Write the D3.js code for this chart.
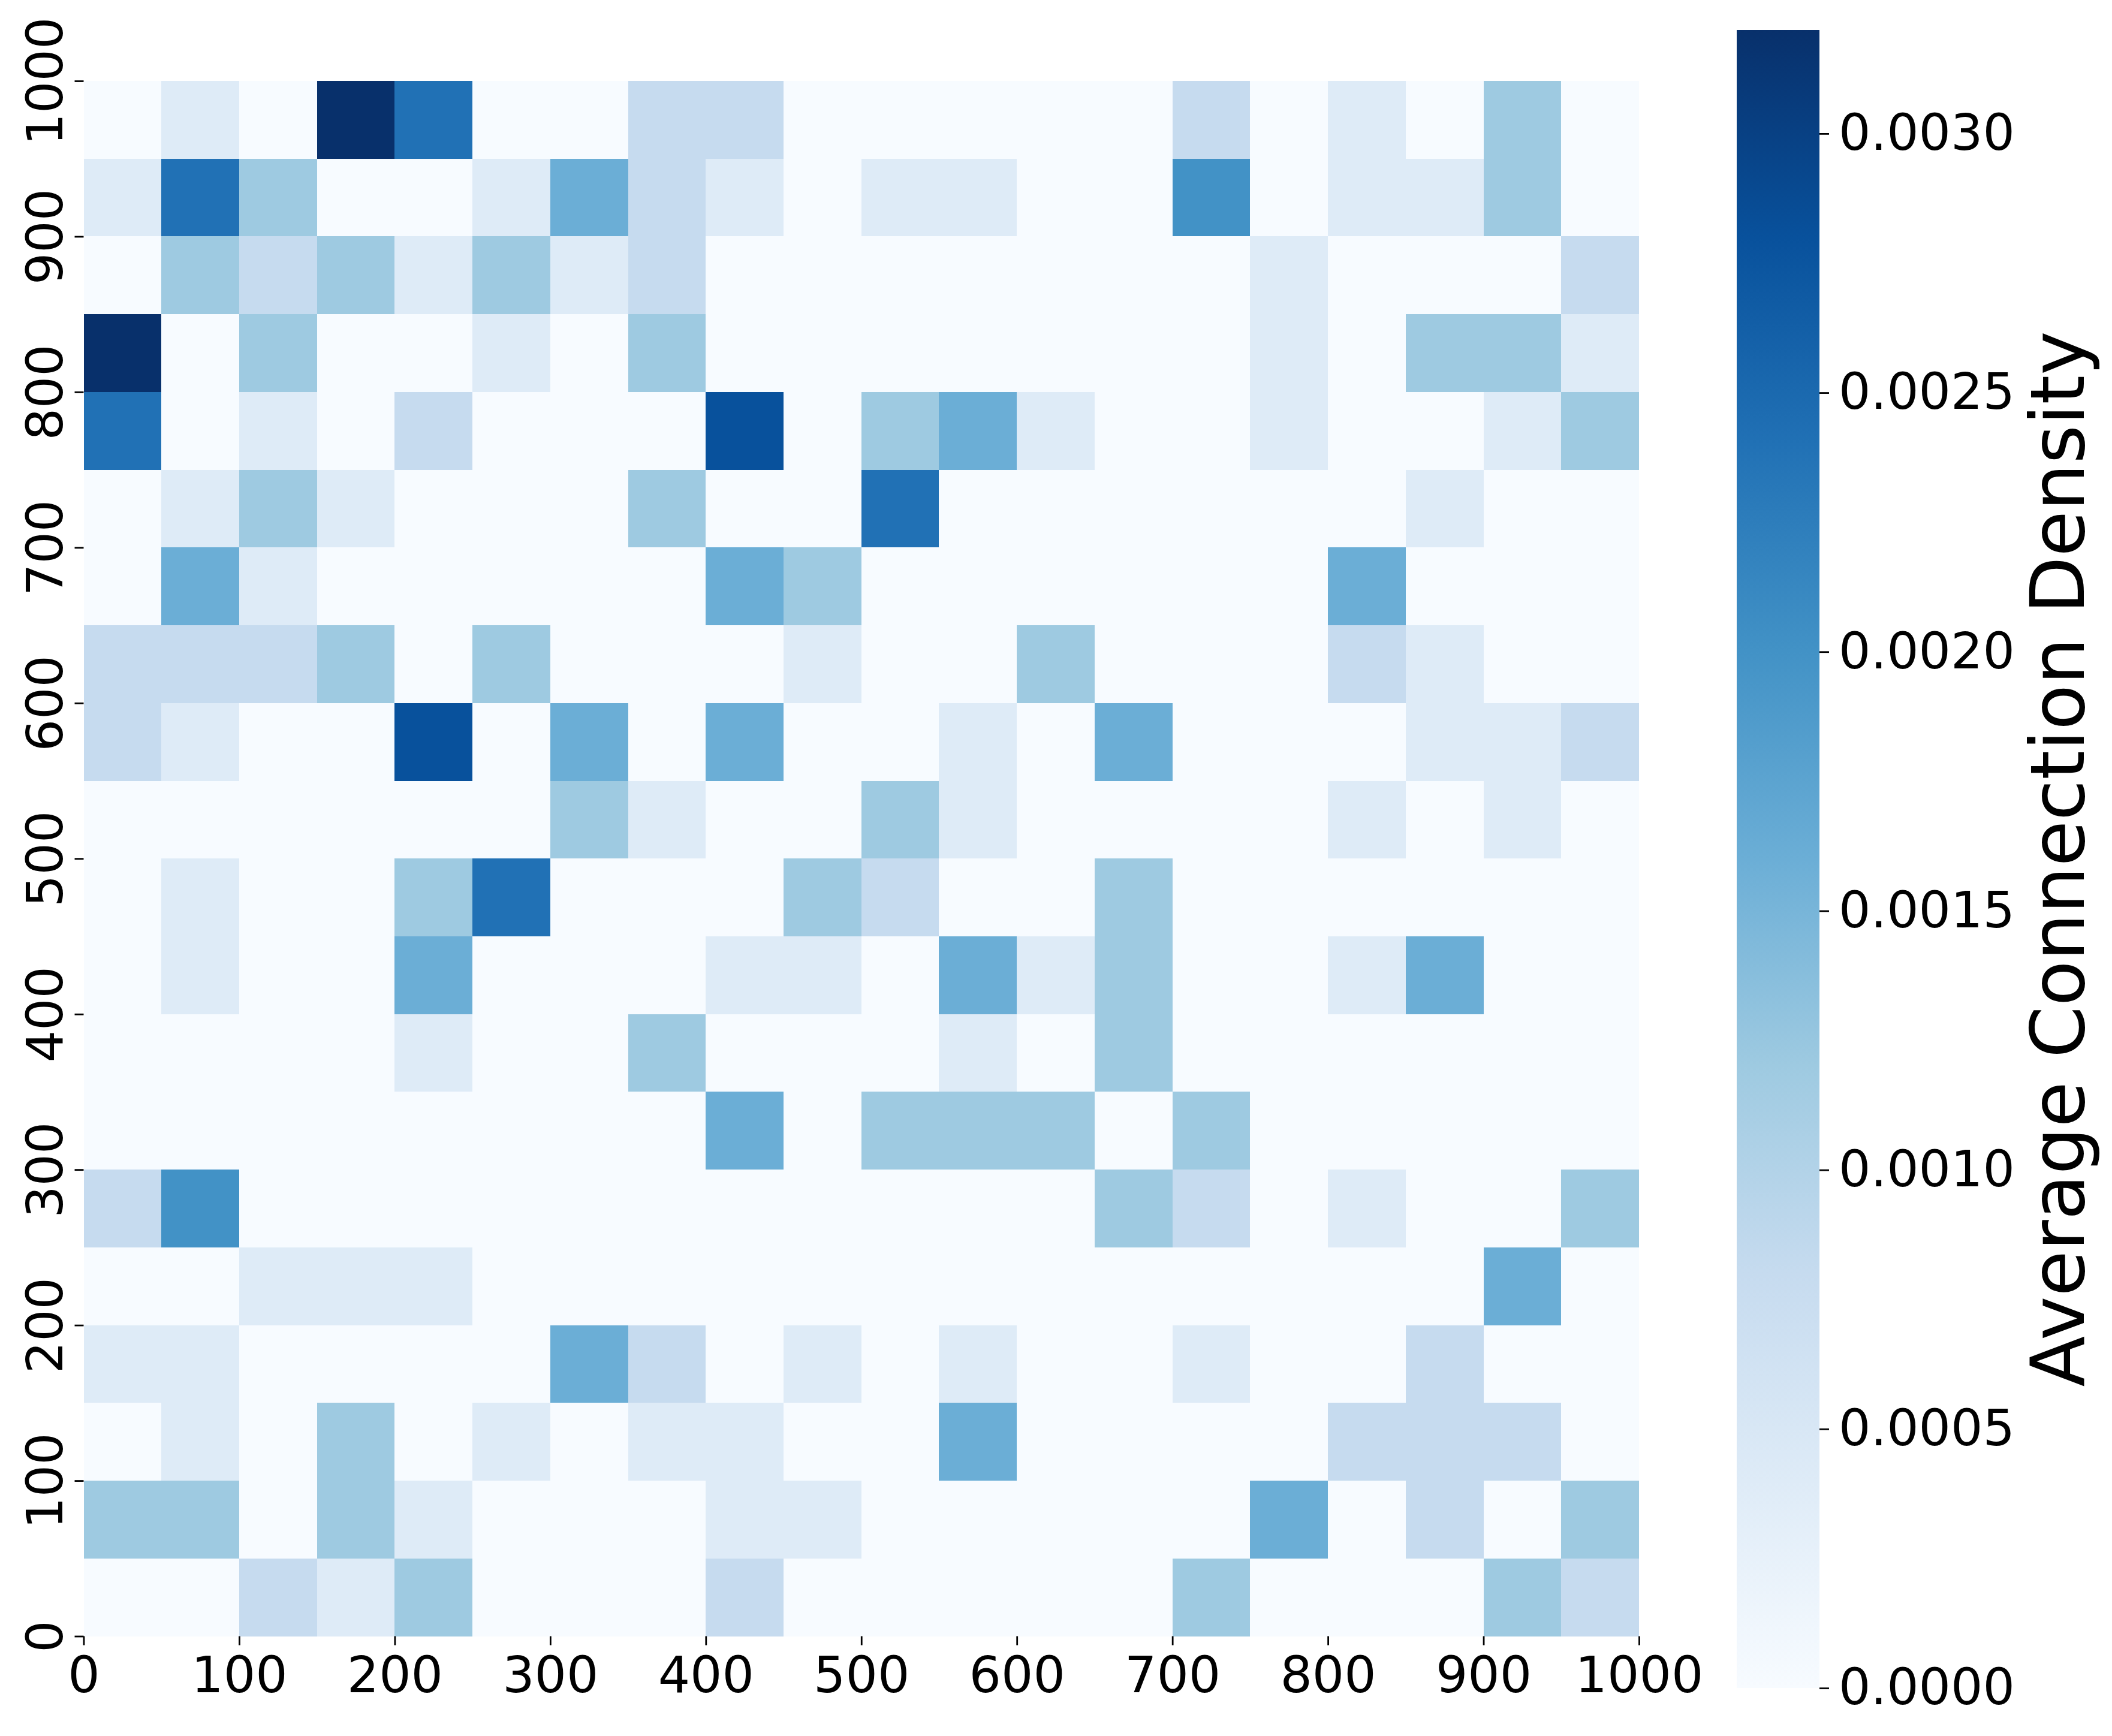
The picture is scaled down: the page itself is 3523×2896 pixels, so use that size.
<!DOCTYPE html>
<html>
<head>
<meta charset="utf-8">
<script src="https://cdn.jsdelivr.net/npm/d3@7"></script>
<style>
    body { margin: 0; background: #ffffff; }
    text { font-family: "DejaVu Sans", sans-serif; fill: #000000; }
</style>
</head>
<body>
<div id="chart"></div>
<script>
"use strict";

// lower edge of each 50-wide bin along x
const xBins = [0, 50, 100, 150, 200, 250, 300, 350, 400, 450, 500, 550, 600, 650, 700, 750, 800, 850, 900, 950];

// lower edge of each row, listed from the top row down
const rowBins = [950, 900, 850, 800, 750, 700, 650, 600, 550, 500, 450, 400, 350, 300, 250, 200, 150, 100, 50, 0];

// average connection density per cell, one array per row (top row first)
const densityRows = [
    [0, .0004, 0, .0032, .0024, 0, 0, .0008, .0008, 0, 0, 0, 0, 0, .0008, 0, .0004, 0, .0012, 0],
    [.0004, .0024, .0012, 0, 0, .0004, .0016, .0008, .0004, 0, .0004, .0004, 0, 0, .0020, 0, .0004, .0004, .0012, 0],
    [0, .0012, .0008, .0012, .0004, .0012, .0004, .0008, 0, 0, 0, 0, 0, 0, 0, .0004, 0, 0, 0, .0008],
    [.0032, 0, .0012, 0, 0, .0004, 0, .0012, 0, 0, 0, 0, 0, 0, 0, .0004, 0, .0012, .0012, .0004],
    [.0024, 0, .0004, 0, .0008, 0, 0, 0, .0028, 0, .0012, .0016, .0004, 0, 0, .0004, 0, 0, .0004, .0012],
    [0, .0004, .0012, .0004, 0, 0, 0, .0012, 0, 0, .0024, 0, 0, 0, 0, 0, 0, .0004, 0, 0],
    [0, .0016, .0004, 0, 0, 0, 0, 0, .0016, .0012, 0, 0, 0, 0, 0, 0, .0016, 0, 0, 0],
    [.0008, .0008, .0008, .0012, 0, .0012, 0, 0, 0, .0004, 0, 0, .0012, 0, 0, 0, .0008, .0004, 0, 0],
    [.0008, .0004, 0, 0, .0028, 0, .0016, 0, .0016, 0, 0, .0004, 0, .0016, 0, 0, 0, .0004, .0004, .0008],
    [0, 0, 0, 0, 0, 0, .0012, .0004, 0, 0, .0012, .0004, 0, 0, 0, 0, .0004, 0, .0004, 0],
    [0, .0004, 0, 0, .0012, .0024, 0, 0, 0, .0012, .0008, 0, 0, .0012, 0, 0, 0, 0, 0, 0],
    [0, .0004, 0, 0, .0016, 0, 0, 0, .0004, .0004, 0, .0016, .0004, .0012, 0, 0, .0004, .0016, 0, 0],
    [0, 0, 0, 0, .0004, 0, 0, .0012, 0, 0, 0, .0004, 0, .0012, 0, 0, 0, 0, 0, 0],
    [0, 0, 0, 0, 0, 0, 0, 0, .0016, 0, .0012, .0012, .0012, 0, .0012, 0, 0, 0, 0, 0],
    [.0008, .0020, 0, 0, 0, 0, 0, 0, 0, 0, 0, 0, 0, .0012, .0008, 0, .0004, 0, 0, .0012],
    [0, 0, .0004, .0004, .0004, 0, 0, 0, 0, 0, 0, 0, 0, 0, 0, 0, 0, 0, .0016, 0],
    [.0004, .0004, 0, 0, 0, 0, .0016, .0008, 0, .0004, 0, .0004, 0, 0, .0004, 0, 0, .0008, 0, 0],
    [0, .0004, 0, .0012, 0, .0004, 0, .0004, .0004, 0, 0, .0016, 0, 0, 0, 0, .0008, .0008, .0008, 0],
    [.0012, .0012, 0, .0012, .0004, 0, 0, 0, .0004, .0004, 0, 0, 0, 0, 0, .0016, 0, .0008, 0, .0012],
    [0, 0, .0008, .0004, .0012, 0, 0, 0, .0008, 0, 0, 0, 0, 0, .0012, 0, 0, 0, .0012, .0008]
];

// axis ticks
const xTicks = [0, 100, 200, 300, 400, 500, 600, 700, 800, 900, 1000];
const yTicks = [0, 100, 200, 300, 400, 500, 600, 700, 800, 900, 1000];
const cbarTicks = [0, 0.0005, 0.0010, 0.0015, 0.0020, 0.0025, 0.0030];
const cbarTitle = "Average Connection Density";

// matplotlib "Blues" colour stops
const bluesStops = ["#f7fbff", "#deebf7", "#c6dbef", "#9ecae1", "#6baed6",
                    "#4292c6", "#2171b5", "#08519c", "#08306b"];
const vmax = 0.0032;

const W = 3523, H = 2896;
const binSize = 50;

// plot area
const plotLeft = 139.5, plotRight = 2734, plotTop = 135, plotBottom = 2729.5;
// colorbar area
const cbLeft = 2897, cbRight = 3035, cbTop = 50, cbBottom = 2816;

const svg = d3.select("#chart").append("svg")
    .attr("width", W)
    .attr("height", H)
    .attr("viewBox", [0, 0, W, H]);

svg.append("rect").attr("width", W).attr("height", H).attr("fill", "#ffffff");

const x = d3.scaleLinear().domain([0, 1000]).range([plotLeft, plotRight]);
const y = d3.scaleLinear().domain([0, 1000]).range([plotBottom, plotTop]);

const color = d3.scaleLinear()
    .domain(bluesStops.map((c, i) => vmax * i / (bluesStops.length - 1)))
    .range(bluesStops)
    .clamp(true);

// flatten rows into cells
const cells = [];
densityRows.forEach(function(row, r) {
    row.forEach(function(v, c) {
        cells.push({ x0: xBins[c], y0: rowBins[r], value: v });
    });
});

svg.append("g")
    .attr("shape-rendering", "crispEdges")
    .selectAll("rect")
    .data(cells)
    .enter()
    .append("rect")
    .attr("x", d => x(d.x0))
    .attr("y", d => y(d.y0 + binSize))
    .attr("width", d => x(d.x0 + binSize) - x(d.x0))
    .attr("height", d => y(d.y0) - y(d.y0 + binSize))
    .attr("fill", d => color(d.value));

const tickFont = 84;

// x axis
const xAxis = svg.append("g")
    .attr("transform", `translate(0,${plotBottom})`)
    .call(d3.axisBottom(x).tickValues(xTicks).tickSize(15).tickPadding(18.5).tickFormat(d3.format("d")));
xAxis.select(".domain").remove();
xAxis.selectAll(".tick line").attr("stroke", "#000").attr("stroke-width", 2.8);
xAxis.selectAll(".tick text").attr("font-size", tickFont).attr("font-family", "DejaVu Sans");

// y axis, labels rotated to read upwards
const yAxis = svg.append("g")
    .attr("transform", `translate(${plotLeft},0)`)
    .call(d3.axisLeft(y).tickValues(yTicks).tickSize(15).tickFormat(d3.format("d")));
yAxis.select(".domain").remove();
yAxis.selectAll(".tick line").attr("stroke", "#000").attr("stroke-width", 2.8);
yAxis.selectAll(".tick text")
    .attr("font-size", tickFont)
    .attr("font-family", "DejaVu Sans")
    .attr("text-anchor", "middle")
    .attr("x", 0)
    .attr("y", -35.5)
    .attr("dy", 0)
    .attr("transform", "rotate(-90)");

// colorbar gradient
const grad = svg.append("defs").append("linearGradient")
    .attr("id", "cbar")
    .attr("x1", 0).attr("y1", 1).attr("x2", 0).attr("y2", 0);
grad.selectAll("stop")
    .data(bluesStops)
    .enter()
    .append("stop")
    .attr("offset", (d, i) => i / (bluesStops.length - 1))
    .attr("stop-color", d => d);

svg.append("rect")
    .attr("x", cbLeft)
    .attr("y", cbTop)
    .attr("width", cbRight - cbLeft)
    .attr("height", cbBottom - cbTop)
    .attr("fill", "url(#cbar)");

const cScale = d3.scaleLinear().domain([0, vmax]).range([cbBottom, cbTop]);
const cAxis = svg.append("g")
    .attr("transform", `translate(${cbRight},0)`)
    .call(d3.axisRight(cScale).tickValues(cbarTicks).tickSize(16).tickPadding(16).tickFormat(d3.format(".4f")));
cAxis.select(".domain").remove();
cAxis.selectAll(".tick line").attr("stroke", "#000").attr("stroke-width", 2.8);
cAxis.selectAll(".tick text").attr("font-size", tickFont).attr("font-family", "DejaVu Sans");

// colorbar title
svg.append("text")
    .attr("transform", `translate(3476,${(cbTop + cbBottom) / 2}) rotate(-90)`)
    .attr("text-anchor", "middle")
    .attr("font-size", 124)
    .text(cbarTitle);
</script>
</body>
</html>
